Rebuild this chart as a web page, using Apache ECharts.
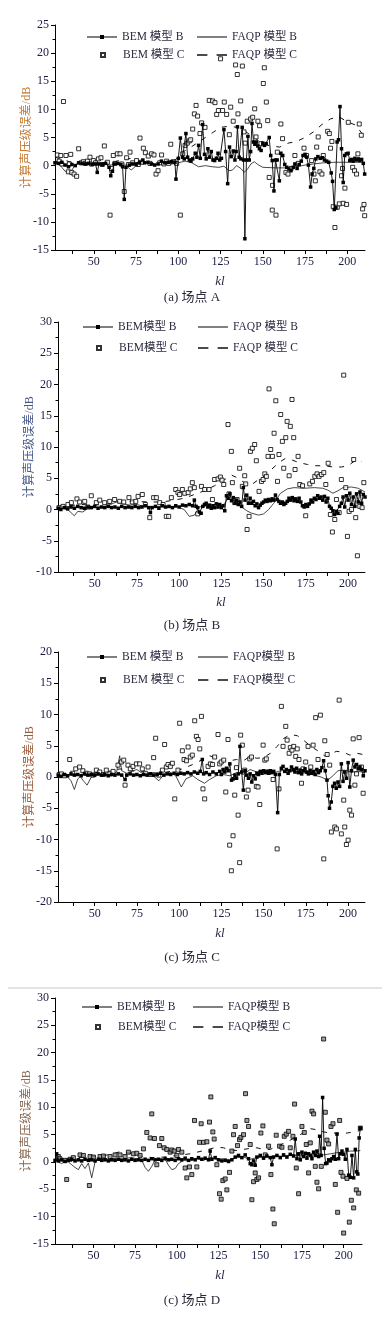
<!DOCTYPE html>
<html><head><meta charset="utf-8">
<script src="https://cdn.jsdelivr.net/npm/echarts@6/dist/echarts.min.js"></script>
<style>html,body{margin:0;padding:0;background:#fff}#c{width:387px;height:1320px}</style>
</head><body><div id="c"></div>
<script>
// ---------- shared axis values ----------
const xLabels = [50, 75, 100, 125, 150, 175, 200];
const xTicks = [37.5, 50, 62.5, 75, 87.5, 100, 112.5, 125, 137.5, 150, 162.5, 175, 187.5, 200];
const yName = '计算声压级误差/dB';
const xName = 'kl';

// ---------- panel A ----------
const aNames = ['BEM 模型 B', 'FAQP 模型 B', 'BEM 模型 C', 'FAQP 模型 C'];
const aBemB = [[27,0.5],[29,0.4],[31,0.6],[33,0.1],[35,-0.2],[37,0.2],[39,0.0],[41,0.5],[43,0.4],[45,0.3],[47,0.4],[49,0.2],[51,0.3],[52,-1.2],[53,0.3],[55,0.2],[57,0.4],[59,-0.3],[60,-1.8],[61,-1.0],[62,0.3],[64,0.4],[66,0.2],[67,-0.2],[68,-6.0],[69,-0.3],[71,0.1],[73,0.3],[75,0.2],[77,0.5],[79,1.0],[80,0.5],[82,0.6],[84,0.3],[86,0.1],[88,0.3],[90,0.8],[92,0.5],[94,0.6],[96,0.7],[98,0.6],[98.6,-2.4],[100,1.3],[101.2,4.9],[102.5,1.5],[103.5,1.2],[104.5,5.7],[105.5,1.5],[106.5,1.0],[107.5,0.8],[108.5,1.2],[110,2.2],[111,1.5],[112,3.6],[113,1.3],[114.4,7.3],[115.5,2.0],[116.5,1.2],[117.5,3.0],[118.5,1.5],[119.5,2.5],[120.5,1.0],[121.5,0.9],[122.5,1.3],[123.5,2.2],[124.5,1.0],[125.5,1.3],[127,6.4],[128,2.5],[129.2,-3.2],[130.3,3.3],[131.3,1.6],[132.5,2.6],[133.5,1.0],[134.2,2.5],[135,6.9],[136,1.5],[137,1.2],[137.8,6.8],[138.6,1.0],[139.4,-13.0],[140.3,1.0],[141.2,5.2],[142,1.0],[142.8,2.5],[143.6,7.5],[144.5,4.2],[145.3,3.8],[146.2,4.2],[147,3.5],[148,3.0],[149,2.7],[150,4.0],[151,3.6],[152,3.9],[153.8,5.0],[154.7,1.8],[155.6,0.9],[156.6,-4.5],[157.5,1.0],[158.5,1.0],[159.8,-2.7],[160.7,2.2],[161.8,1.8],[163,0.2],[164.2,-0.3],[165.5,-0.6],[166.7,-0.9],[168,-0.3],[169,0.3],[170.3,-0.5],[171.5,0.2],[172.8,0.8],[173.8,1.8],[175,2.0],[176,1.5],[177,0.1],[178.3,-3.8],[179.2,-1.5],[180.2,-0.5],[181.4,1.2],[182.6,1.6],[184,1.3],[185.3,1.4],[186.5,1.0],[187.8,0.8],[189,0.6],[190.5,-1.3],[191.3,-2.8],[192.3,-7.8],[193.3,-7.5],[194,4.2],[194.8,4.6],[195.7,10.5],[196.6,3.0],[197.6,-3.0],[198.5,1.8],[199.5,2.1],[200.5,2.2],[201.5,0.9],[202.5,1.1],[203.5,0.8],[204.5,1.3],[205.5,1.0],[206.5,1.2],[207.5,0.9],[208.5,1.1],[209.5,0.4],[210.3,-1.5]];
const aFaqpB = [[27,1.0],[29,0.5],[31,-0.3],[33,-1.0],[35,-1.2],[37,-0.8],[39,0.2],[42,0.6],[45,0.4],[48,0.3],[52,0.2],[56,0.3],[60,0.1],[64,0.4],[68,0.3],[70,-0.2],[72,-0.8],[74,-0.3],[77,0.5],[80,0.6],[84,0.3],[88,0.2],[92,0.3],[96,0.3],[100,0.5],[104,0.8],[108,0.5],[112,-0.2],[116,0.0],[120,-0.2],[124,-0.3],[127,-0.1],[130,-0.9],[132,-0.8],[134.5,0.0],[137,-0.5],[139,-1.2],[141,-0.6],[143,0.3],[145,0.7],[147,0.2],[150,-0.3],[158,-0.4],[165,-0.4],[170,-0.2],[175,0.1],[180,0.3],[186,0.5],[192,0.6],[198,0.6],[204,0.6],[210,0.6]];
const aFaqpC = [[27,1.5],[32,1.0],[38,0.5],[45,0.3],[52,0.5],[60,0.5],[66,1.0],[72,1.3],[78,0.8],[85,0.4],[92,0.5],[98,1.0],[103,2.5],[107,3.2],[111,4.0],[116,5.0],[121,6.0],[125,6.8],[130,7.0],[135,6.8],[140,6.0],[145,5.0],[150,3.8],[155,3.5],[160,3.3],[165,4.0],[170,4.3],[175,5.0],[180,6.0],[185,7.3],[190,8.3],[195,8.7],[200,7.8],[205,7.2],[210,5.2]];
const aBemC = [[28.4,1.9],[29.5,0.8],[30.4,1.8],[31,0.3],[32,11.4],[33.5,1.8],[34.9,-1.1],[35.5,0.3],[36.3,2.0],[36.9,-1.2],[38.3,-1.5],[39.8,-1.9],[41,3.0],[42.5,0.5],[43.8,0.7],[45,0.4],[46.2,0.8],[47.7,1.5],[48.5,0.3],[49.7,0.9],[51,0.5],[52.7,1.2],[54.2,1.4],[55,0.2],[56.2,3.5],[58,0.6],[59.6,-8.8],[60.5,-0.5],[61.5,1.8],[62.5,0.4],[63.9,2.1],[65.5,2.1],[66.5,0.3],[68,-4.6],[69.4,1.4],[70.5,0.2],[71.4,2.4],[73,0.5],[75.3,0.9],[76.3,0.2],[77.3,4.9],[78.3,0.6],[79.3,3.1],[80.5,2.3],[82.2,1.7],[83.2,0.4],[84.2,2.1],[85.6,1.9],[86.8,-1.5],[88,-0.9],[89,0.5],[90.1,1.9],[91.5,0.3],[93.1,0.8],[94.3,0.4],[95.5,3.8],[97,0.7],[99,0.4],[101.2,-8.8],[102.6,2.1],[104,3.6],[105.3,4.0],[106.5,4.4],[107.3,4.6],[108.5,6.5],[109.5,9.2],[110.5,10.7],[111.4,8.8],[112.8,5.7],[113.8,7.6],[115.8,6.8],[118.3,11.6],[120.3,11.5],[121.7,11.2],[122.7,9.1],[123.7,9.8],[125,19.0],[126.2,9.8],[127.2,11.3],[128.6,9.1],[130.2,5.5],[131,10.4],[132.5,7.9],[133.9,17.9],[134.9,16.2],[135.3,9.2],[136.9,11.5],[137.9,17.7],[138.9,6.0],[139.6,4.0],[140.8,7.9],[142.8,8.3],[144,8.6],[145.2,10.1],[146,5.1],[147.1,7.9],[148.1,7.1],[148.9,3.9],[150.3,14.6],[150.9,17.4],[152.1,11.3],[152.9,8.0],[153.8,-2.1],[155.6,-7.9],[155.8,-3.5],[157.8,-8.8],[158.6,2.4],[160.7,7.4],[161.7,4.8],[163.7,-1.2],[164.9,-1.5],[166.7,-0.5],[169,1.8],[171,0.4],[174.4,3.1],[175.9,1.8],[178.9,0.9],[180.3,-1.5],[181.1,-2.7],[181.9,3.3],[182.8,5.1],[183.8,-1.1],[185,-1.5],[185.8,1.8],[188.4,6.1],[189.4,5.7],[190.1,3.1],[190.9,4.3],[191.7,-7.3],[192.7,-11.0],[194.1,-7.4],[195.3,-6.8],[196.6,-1.8],[197.2,-0.5],[197.6,-6.7],[198.6,-4.0],[199.6,-6.9],[200.6,7.7],[203.2,-0.3],[204.3,-0.9],[205.5,-1.5],[206.3,2.1],[207.1,7.4],[208.3,5.4],[209.1,-7.7],[209.9,-6.9],[210.3,-8.9]];

// ---------- panel B ----------
const bNames = ['BEM模型 B', 'FAQP 模型 B', 'BEM模型 C', 'FAQP 模型 C'];
const bBemB = [[28.5,0.2],[30,0.0],[32,0.3],[34,0.1],[36,0.4],[38,0.2],[40,0.5],[42,0.3],[44,0.2],[46,0.4],[48,0.3],[50,0.5],[52,0.2],[54,0.4],[56,0.3],[58,0.5],[60,0.3],[62,0.4],[64,0.2],[66,0.5],[68,0.3],[70,0.4],[72,0.3],[74,0.5],[76,0.3],[78,0.4],[80,0.6],[82,0.3],[83,-0.5],[84,0.3],[86,0.5],[88,0.2],[90,0.6],[92,0.4],[94,0.5],[96,0.3],[98,0.6],[100,0.4],[102,0.7],[104,0.6],[106,0.8],[108,0.6],[109,1.5],[110,0.5],[111,0.3],[112,-0.4],[113,-0.6],[114,0.5],[115,0.8],[116,1.0],[117,0.4],[118,0.7],[119,0.2],[120,0.6],[121,0.3],[122,0.9],[123,0.4],[124,0.8],[125,0.3],[126,0.6],[127,-0.2],[128,2.2],[129,1.8],[130,2.5],[131,1.4],[132,1.9],[133,1.0],[134,1.5],[135,0.8],[136,1.2],[137,0.5],[138,3.5],[139,1.5],[140,2.3],[141,1.0],[142,1.8],[143,1.0],[144,1.3],[145,0.6],[146,0.9],[147,0.3],[148,0.7],[149,1.0],[150,1.2],[151,1.5],[152,1.3],[153,1.6],[154,1.4],[155,1.7],[156,1.5],[157,2.3],[158,1.6],[159,1.3],[160,1.0],[161,1.2],[162,0.8],[163,1.0],[164,1.3],[165,1.8],[166,1.5],[167,1.9],[168,1.4],[169,1.7],[170,1.3],[171,1.8],[172,1.2],[173,0.6],[174,0.4],[175,0.8],[176,0.5],[177,0.9],[178,1.5],[179,1.2],[180,1.8],[181,1.6],[182,2.2],[183,1.8],[184,2.0],[185,1.5],[186,2.1],[187,1.2],[188,1.8],[189,0.5],[190,0.2],[191,-0.2],[192,-0.8],[193,-0.3],[194,-0.6],[195,0.5],[196,1.0],[197,2.0],[198,0.4],[199,2.2],[200,1.5],[201,2.6],[202,0.8],[203,2.0],[204,0.5],[205,2.5],[206,1.2],[207,2.8],[208,1.0],[209,2.4],[210,2.0]];
const bFaqpB = [[28.3,0.4],[31,0.2],[34,0.0],[36,-0.5],[38,-1.0],[40,-0.3],[43,-0.4],[46,0.2],[50,0.3],[54,0.4],[58,0.6],[61,1.0],[64,1.3],[67,0.9],[71,0.7],[75,0.8],[79,0.5],[84,0.4],[89,0.5],[94,0.3],[99,0.4],[103,0.0],[106,-1.1],[109,-0.9],[112,0.4],[116,0.6],[120,0.2],[124,0.3],[127,1.0],[129,1.8],[132,1.2],[136,0.6],[140,-0.2],[143,-0.6],[147,-0.9],[150,-0.7],[153,0.0],[156,1.0],[160,2.6],[164,3.3],[168,3.5],[174,3.4],[180,3.5],[185,3.4],[188,3.1],[191,2.6],[194,3.0],[197,3.5],[202,3.6],[206,3.4],[210,2.8]];
const bFaqpC = [[28.3,0.5],[35,0.6],[42,0.8],[50,0.7],[58,0.9],[66,1.2],[74,1.3],[82,1.2],[90,1.2],[97,1.5],[103,1.8],[109,2.4],[115,3.0],[121,3.8],[127,4.8],[131,5.5],[135,5.0],[139,4.2],[143,4.0],[147,4.8],[151,5.5],[155,6.5],[159,7.5],[163,8.2],[167,7.9],[171,7.5],[176,7.2],[181,7.0],[186,7.0],[191,6.8],[196,6.8],[200,7.0],[204,7.8],[208,7.7]];
const bBemC = [[28.9,0.3],[31.3,0.5],[34.2,0.8],[36.2,1.1],[39.5,1.7],[41.1,1.2],[44.1,1.3],[46,0.4],[48,2.2],[51,1.1],[53,1.5],[55.9,1.1],[58.9,1.3],[61.8,1.6],[64.8,1.3],[67.2,1.2],[70.3,1.9],[72.3,1.2],[74.3,1.3],[75.7,2.1],[78.2,2.4],[80,0.8],[82.6,-1.3],[84.9,1.9],[86.5,1.9],[88.5,1.1],[90.5,0.8],[92.4,-1.1],[93.8,-1.1],[95.4,1.9],[98,3.2],[99.3,2.7],[100.3,2.4],[101.9,3.2],[103.3,2.6],[105.3,2.7],[106.6,3.3],[107.8,4.3],[109,3.5],[111,-0.7],[113.2,3.7],[115.1,3.2],[117.7,3.2],[119.7,1.6],[121,4.8],[123,4.9],[124.4,5.2],[125.4,4.7],[126.4,4.0],[128.9,13.6],[129.5,2.5],[130.9,9.3],[131.5,4.3],[132.9,1.1],[134.3,1.6],[135.8,6.6],[137.4,3.7],[138.8,5.4],[139.4,4.1],[140.2,-3.2],[141.4,-1.1],[142.2,9.3],[143.3,9.8],[144.7,10.4],[145.7,7.8],[147.3,2.9],[148.7,4.5],[149.7,4.8],[150.7,5.7],[151.6,5.3],[152.6,8.5],[153.2,19.3],[154.2,9.6],[155.2,8.5],[156.2,12.2],[157.2,17.4],[158.2,4.5],[159.1,8.8],[160.1,15.2],[161.1,10.9],[161.9,6.6],[163.1,11.5],[163.9,14.1],[165.1,5.4],[165.8,13.3],[166.8,17.6],[167.8,11.5],[168.6,6.4],[170.4,8.5],[171.4,4.0],[173,3.8],[174.9,-1.0],[177.3,4.1],[178.9,4.5],[180.3,5.3],[181.6,5.7],[182.8,5.3],[184.2,5.6],[185.6,5.9],[186.8,4.0],[188.2,7.4],[189.5,-0.8],[190.7,-3.6],[192.1,-1.6],[193.1,1.6],[194.7,-0.5],[196,4.8],[197.4,21.5],[198.6,3.5],[199.6,-4.3],[200.6,-0.3],[202,0.0],[203.3,8.0],[204.5,-1.3],[205.5,-7.4],[206.9,0.5],[208.3,0.3],[209.3,4.3]];

// ---------- panel C ----------
const cNames = ['BEM 模型 B', 'FAQP模型 B', 'BEM 模型 C', 'FAQP模型 C'];
const cBemB = [[28.5,0.3],[30,0.1],[32,0.4],[34,0.2],[36,0.5],[38,0.3],[40,0.4],[42,0.2],[44,0.5],[46,0.3],[48,0.4],[50,0.3],[52,0.5],[54,0.3],[56,0.4],[58,0.2],[60,0.4],[62,0.3],[64,0.5],[66,0.3],[68,-0.4],[69,0.3],[71,0.5],[73,0.3],[75,0.4],[77,0.2],[79,0.4],[81,0.3],[83,0.5],[85,0.3],[87,0.4],[89,0.6],[91,0.3],[93,0.5],[95,0.4],[97,0.6],[99,0.4],[101,0.6],[103,0.5],[105,0.7],[107,0.5],[109,0.8],[111,0.6],[112.5,0.9],[113.7,2.8],[114.5,0.5],[116,0.7],[118,0.4],[120,0.8],[122,0.5],[124,0.9],[125,0.4],[126,1.2],[127,0.8],[128,1.4],[129,1.0],[130,2.1],[131,-0.5],[132,-0.3],[133,0.3],[134,-0.2],[135,0.5],[136,4.9],[137,0.8],[138,-2.1],[139,1.0],[140,0.3],[141,-0.2],[142,0.5],[143,-0.8],[144,0.2],[145,-0.3],[146,0.6],[147,0.4],[148,0.9],[149,0.6],[150,1.0],[151,0.7],[152,0.9],[153,0.6],[154,1.0],[155,0.7],[156,0.9],[157,0.4],[158.3,-5.7],[159.3,0.4],[160.5,1.4],[161.5,1.7],[162.5,0.9],[163.5,1.2],[164.5,0.6],[165.5,1.0],[166.5,1.6],[167.5,1.2],[168.5,0.8],[169.5,1.4],[170.5,0.7],[171.5,1.1],[172.5,0.5],[173.5,1.0],[174.5,1.3],[175.5,0.8],[176.5,0.5],[177.5,1.0],[178.5,0.6],[179.5,0.9],[180.5,0.4],[181.5,1.2],[182.5,0.7],[183.5,1.0],[184.5,1.5],[185.5,2.6],[186.5,1.0],[187.5,-0.5],[188.2,-3.0],[189,-5.0],[190,-4.0],[191,-1.5],[192,-1.0],[193,-1.8],[194,-0.8],[195,-1.5],[196,2.1],[197,-0.7],[198,0.8],[199,-0.2],[200,2.3],[201,-1.6],[202,1.0],[203,2.7],[204,1.6],[205,2.0],[206,1.3],[207,1.6],[208,1.2],[209,0.2],[210,1.0]];
const cFaqpB = [[28.3,0.3],[31,0.2],[34,0.0],[36,-0.6],[38,-2.0],[40,-0.3],[41.5,0.1],[43,-0.5],[45.5,-1.3],[48,0.0],[52,0.3],[56,0.4],[60,0.3],[63,0.8],[64.8,3.4],[66,1.0],[69,0.6],[72,0.9],[75,1.2],[78,0.6],[82,0.3],[85,0.1],[88,-0.6],[91,0.4],[95,0.7],[98,0.2],[101.3,-1.6],[104,-0.3],[108,0.2],[111,-0.4],[115,-1.0],[118,-0.4],[122,0.2],[126,0.4],[130,0.2],[134,0.7],[138,0.4],[142,1.2],[146,0.8],[150,0.9],[155,0.6],[160,1.0],[165,1.0],[170,0.8],[175,0.6],[180,0.3],[184,0.0],[188,-0.5],[191,0.2],[194,1.0],[198,1.1],[202,0.8],[206,0.9],[210,0.7]];
const cFaqpC = [[28.3,0.6],[35,0.4],[42,0.8],[50,0.7],[58,0.9],[65,1.3],[72,1.0],[80,0.8],[88,0.6],[95,0.9],[102,1.3],[108,2.0],[114,2.8],[118,3.4],[122,3.0],[126,2.6],[130,2.6],[134,2.8],[138,2.6],[142,3.3],[146,3.0],[150,3.1],[154,3.8],[158,4.9],[162,6.2],[166,6.8],[170,6.6],[174,5.8],[178,4.9],[182,4.2],[186,3.4],[190,3.7],[193,4.1],[197,4.0],[201,3.5],[205,3.8],[209,3.6]];
const cBemC = [[29,0.4],[30.3,0.5],[32.2,0.2],[35.2,2.8],[37,0.6],[38.8,1.3],[41.1,1.6],[43,1.0],[45,0.6],[47,0.5],[49,0.3],[51,1.1],[53,0.8],[55,0.4],[56.9,1.1],[59,0.5],[60.9,0.9],[63.8,1.9],[65.8,2.4],[67.2,2.7],[68,-1.3],[69.7,1.9],[71.1,1.3],[72.7,1.7],[74.7,2.1],[76.6,2.1],[78.2,1.3],[80,0.6],[81.6,1.6],[83,0.4],[84.9,3.1],[86.1,6.2],[88,0.3],[90.1,1.1],[91.4,5.2],[92.4,1.6],[93.4,2.0],[94.8,1.7],[96,2.2],[97.4,-3.5],[99.3,1.1],[100.3,8.6],[101.9,4.2],[102.9,2.8],[104.3,2.6],[105.3,4.8],[106.6,3.2],[107.8,3.5],[109.2,9.0],[110.2,6.5],[111.2,6.0],[112.2,4.5],[113.2,9.7],[114.1,-1.9],[115.1,-3.5],[117.1,1.7],[118.5,2.1],[119.7,2.0],[121,3.2],[123,6.8],[124,2.1],[124.9,2.4],[126.4,2.7],[127.6,-2.4],[128.9,6.0],[129.9,-10.9],[130.9,-15.0],[131.9,-9.4],[132.9,-2.9],[133.9,1.5],[134.9,-6.1],[135.8,-13.7],[136.4,6.7],[137.4,5.1],[138.8,1.1],[139.8,-3.2],[140.8,-2.1],[141.8,2.9],[142.8,3.2],[145.7,-1.5],[146.7,-1.6],[147.7,-4.4],[149.7,5.1],[150.7,2.7],[151.6,2.9],[153,0.8],[155.6,-0.4],[158,-11.5],[159.1,-1.9],[160.5,11.3],[161.5,4.9],[163.1,8.1],[163.9,5.9],[165.1,3.8],[165.8,4.7],[166.8,4.3],[167.8,4.9],[169,3.3],[169.9,4.5],[170.9,2.8],[172.4,-1.0],[173.3,1.3],[174.9,2.4],[176.3,4.9],[177.9,1.6],[179.3,5.1],[180.8,9.5],[182.2,2.8],[183.6,9.9],[185.6,-13.1],[186.2,5.8],[187.6,3.6],[189.1,1.9],[190.1,-8.8],[192.1,-8.0],[193.1,-8.3],[194.7,12.3],[196,-9.1],[197.4,-3.7],[198,-8.0],[199,-10.8],[200,-10.1],[201,-5.3],[202,-6.1],[203,6.1],[204,-1.3],[205,0.5],[206.5,6.3],[207.9,1.6],[208.9,-2.6]];

// ---------- panel D ----------
const dNames = ['BEM模型 B', 'FAQP模型 B', 'BEM模型 C', 'FAQP模型 C'];
const dBemB = [[27,0.3],[28,1.5],[29,0.2],[31,0.4],[33,0.1],[35,0.3],[37,0.5],[39,0.2],[41,0.4],[43,0.2],[45,0.5],[47,0.3],[49,0.4],[51,0.2],[53,0.5],[55,0.3],[57,0.4],[59,0.2],[61,0.4],[63,0.3],[65,0.5],[67,0.3],[69,0.4],[71,0.2],[73,0.5],[75,0.3],[77,0.4],[79,0.3],[81,0.5],[83,0.3],[85,0.6],[87,0.4],[89,0.5],[91,0.3],[93,0.6],[95,0.4],[97,0.5],[99,0.3],[101,0.6],[103,0.4],[105,0.7],[107,0.3],[109,0.6],[111,0.4],[113,0.8],[115,0.5],[117,0.7],[119,0.4],[120,2.0],[121,0.5],[123,0.8],[125,0.4],[127,0.2],[129,0.3],[131,0.1],[133,0.4],[135,0.9],[137,1.2],[139,0.8],[141,1.3],[143,0.6],[144,-0.3],[145,-0.5],[146,0.2],[147,-0.6],[148,0.9],[150,1.2],[152,0.7],[154,1.1],[156,0.8],[157,-0.5],[158,0.9],[160,1.2],[162,0.8],[164,1.3],[166,0.9],[168,1.4],[170,1.1],[171,4.2],[172,0.6],[173,1.5],[174,0.4],[175,1.8],[176,1.0],[177,1.6],[178,0.7],[179,1.5],[180,1.2],[181,0.6],[182,1.8],[183,1.2],[184,2.0],[185,1.0],[185.6,4.7],[186.5,1.2],[187.4,11.8],[188.3,2.5],[189.2,-0.3],[190,-0.2],[191,0.4],[192,0.2],[193,0.6],[194,1.0],[195,0.5],[196,5.1],[197,0.6],[198,1.5],[199,2.0],[200,1.4],[201,0.5],[202,2.3],[203,-2.4],[204,-2.8],[205,1.2],[206,-2.9],[207,2.3],[207.8,-1.8],[208.5,-2.2],[209.3,4.4],[210,6.2]];
const dFaqpB = [[27,0.5],[29,0.0],[31,-0.3],[33,0.2],[35,0.0],[37,-0.5],[39,-1.0],[41,-1.4],[43,-0.3],[45,-1.2],[47,-0.2],[49,-2.9],[51,0.0],[53,0.4],[56,0.6],[60,0.5],[64,0.7],[68,0.5],[72,0.8],[76,0.6],[79,0.3],[81,-1.0],[83,-1.7],[85,-0.8],[87,0.4],[90,0.6],[93,0.5],[95,-0.6],[97,-1.4],[99,-1.2],[101,-0.3],[104,0.3],[108,0.2],[112,0.6],[116,0.3],[120,0.8],[124,0.5],[128,0.6],[132,0.4],[136,0.8],[140,0.9],[144,0.5],[148,0.8],[152,0.9],[156,1.0],[160,1.1],[164,1.0],[168,1.3],[172,1.2],[176,1.3],[180,1.4],[184,1.6],[188,1.3],[192,1.5],[196,1.7],[200,1.8],[204,2.0],[208,2.0],[210,2.1]];
const dFaqpC = [[27,0.5],[34,0.6],[41,0.8],[48,1.0],[55,1.1],[62,1.5],[67,2.0],[72,1.6],[78,1.1],[85,0.8],[92,0.9],[100,1.2],[108,1.5],[115,2.0],[120,2.4],[124,2.7],[128,2.6],[132,2.2],[136,2.1],[140,2.3],[144,2.5],[148,2.6],[152,2.3],[156,2.3],[160,2.9],[164,3.4],[168,4.0],[172,4.6],[176,5.4],[180,6.1],[184,5.9],[188,5.5],[192,5.3],[196,5.3],[200,5.2],[204,5.4],[208,5.6],[210,5.8]];
const dBemC = [[29,1.0],[30,0.6],[33,0.3],[34,-3.2],[36,0.5],[38,0.8],[42,1.3],[44,1.2],[47.6,-4.3],[48,1.0],[50,0.9],[54,1.0],[56,1.1],[60,1.0],[63,1.3],[66,1.3],[69,1.0],[71,1.8],[74,1.5],[76,1.6],[78,1.2],[80,2.4],[82,5.4],[84,4.4],[85,8.8],[86.6,4.3],[88,-0.5],[89.6,3.0],[91,4.3],[92.4,2.6],[94,2.3],[96,1.8],[97,2.2],[98.4,2.0],[100,1.2],[101,2.3],[103,1.8],[105,-1.1],[106,-2.9],[107.6,-0.9],[109,-2.3],[110.6,7.6],[112,-0.9],[113.6,3.6],[114.6,7.0],[116,3.6],[118,3.7],[119.6,7.3],[120.4,11.9],[121.6,5.5],[122.4,4.2],[124,-0.5],[125.6,-5.8],[126.6,-6.8],[127.6,-3.4],[129,-3.1],[130,-5.1],[131.6,-1.9],[133,2.0],[134,5.0],[135,6.5],[136.4,3.0],[137.6,4.1],[138.4,4.5],[140,5.0],[141.2,12.5],[142,7.6],[143,6.5],[144,3.2],[145,-6.9],[146,-3.6],[147,-2.0],[148,-3.2],[149,-2.9],[150.4,5.3],[151.6,6.6],[153,1.3],[155,2.9],[156.4,-2.3],[157.6,-8.6],[158.4,-11.3],[159.6,4.9],[161.6,2.9],[163,2.7],[164.4,4.7],[165.6,5.1],[167,5.6],[168,2.6],[169.6,4.7],[170.6,10.6],[171.6,-1.1],[173,-5.8],[175,6.5],[176.4,5.4],[177.6,3.2],[179,-2.0],[180,3.5],[181,9.3],[182,8.8],[183,-0.8],[184,-3.7],[185,-4.9],[186.6,-0.8],[188,22.5],[189,9.1],[190,4.0],[191,3.3],[192.4,6.5],[193.6,7.0],[195,-4.1],[196.4,-9.2],[197.6,7.6],[198.4,-1.9],[199.6,-2.6],[200,-13.0],[202,-3.0],[203.4,-11.0],[204.6,-7.0],[206,-8.4],[207.6,-5.1],[209,-5.7],[210,6.2]];

// ---------- layout (not data) ----------
const serif = '"Liberation Serif","Noto Sans CJK SC",serif';
const iconBemB = 'path://M0,1.4h30v1.2h-30zM13,0h4v4h-4z';
const iconLine = 'path://M0,0h30v1.1h-30z';
const iconDash = 'path://M0,0h9v1.2h-9zM17,0h9v1.2h-9z';
const iconSq = 'path://M0,0h4v4h-4z';
const panels = [
  {names:aNames, s:[aBemB,aFaqpB,aBemC,aFaqpC], grid:{left:55,top:25,width:310,height:225}, xmin:27, xmax:210.5, ymin:-15, ymax:25,
   leg:{x1:87, x2:197, y1:37, y2:55}, kl:[220,282], cap:'(a) 场点 A', capY:298, yColor:'#c47a33', cFill:'#fff'},
  {names:bNames, s:[bBemB,bFaqpB,bBemC,bFaqpC], grid:{left:58,top:322,width:307,height:250}, xmin:28.3, xmax:210, ymin:-10, ymax:30,
   leg:{x1:83, x2:198, y1:327, y2:348}, kl:[221,603], cap:'(b) 场点 B', capY:626, yColor:'#485a8a', cFill:'#fff'},
  {names:cNames, s:[cBemB,cFaqpB,cBemC,cFaqpC], grid:{left:58,top:652,width:307,height:250}, xmin:28.3, xmax:210, ymin:-20, ymax:20,
   leg:{x1:87, x2:198, y1:657, y2:680}, kl:[220,934], cap:'(c) 场点 C', capY:958, yColor:'#9a5e3e', cFill:'#fff'},
  {names:dNames, s:[dBemB,dFaqpB,dBemC,dFaqpC], grid:{left:55,top:998,width:307,height:246}, xmin:27, xmax:211, ymin:-15, ymax:30,
   leg:{x1:82, x2:193, y1:1007, y2:1027}, kl:[220,1276], cap:'(c) 场点 D', capY:1301, yColor:'#8a6a55', cFill:'#8a8a8a'}
];

const tickColor = '#1a1c40';
const legColor = '#2a2a40';
const option = {animation:false, backgroundColor:'#fff', grid:[], xAxis:[], yAxis:[], series:[], legend:[], graphic:[]};

function legendItem(name, icon, x, y, w, padLeft) {
  return {left:x, top:y - 7, padding:0, itemWidth:w, itemHeight:4, selectedMode:false,
    textStyle:{color:legColor, fontSize:11.5, fontFamily:serif, lineHeight:14, padding:[0,0,0,padLeft]},
    data:[{name:name, icon:icon}]};
}

panels.forEach((p, i) => {
  option.grid.push(Object.assign({containLabel:false}, p.grid));
  option.xAxis.push({type:'value', gridIndex:i, min:p.xmin, max:p.xmax,
    axisLine:{show:true, onZero:false, lineStyle:{color:'#000', width:1}},
    axisTick:{show:true, customValues:xTicks, length:4, lineStyle:{color:'#000'}},
    axisLabel:{customValues:xLabels, color:tickColor, fontSize:12, fontFamily:serif, margin:6},
    splitLine:{show:false}});
  option.yAxis.push({type:'value', gridIndex:i, min:p.ymin, max:p.ymax, interval:5,
    axisLine:{show:true, onZero:false, lineStyle:{color:'#000', width:1}},
    axisTick:{show:true, length:4, lineStyle:{color:'#000'}},
    minorTick:{show:true, splitNumber:2, length:2.5, lineStyle:{color:'#000'}},
    axisLabel:{color:tickColor, fontSize:12, fontFamily:serif, margin:6},
    splitLine:{show:false},
    name:yName, nameLocation:'middle', nameGap:22, nameMoveOverlap:false,
    nameTextStyle:{color:p.yColor, fontSize:12, fontFamily:serif}});
  const [bemB, faqpB, bemC, faqpC] = p.s;
  option.series.push(
    {type:'line', name:p.names[1], xAxisIndex:i, yAxisIndex:i, data:faqpB, showSymbol:false, symbol:'none',
     lineStyle:{color:'#1a1a1a', width:0.8}, itemStyle:{color:'#1a1a1a'}, z:2},
    {type:'line', name:p.names[3], xAxisIndex:i, yAxisIndex:i, data:faqpC, showSymbol:false, symbol:'none',
     lineStyle:{color:'#111', width:1, type:[5,7]}, itemStyle:{color:'#111'}, z:2},
    {type:'scatter', name:p.names[2], xAxisIndex:i, yAxisIndex:i, data:bemC, symbol:'rect', symbolSize:4,
     itemStyle:{color:p.cFill, borderColor:'#000', borderWidth:1}, z:3},
    {type:'line', name:p.names[0], xAxisIndex:i, yAxisIndex:i, data:bemB, symbol:'rect', symbolSize:3.5,
     showSymbol:true, showAllSymbol:true, lineStyle:{color:'#000', width:0.9}, itemStyle:{color:'#000'}, z:4}
  );
  option.legend.push(
    legendItem(p.names[0], iconBemB, p.leg.x1, p.leg.y1, 30, 0),
    legendItem(p.names[1], iconLine, p.leg.x2, p.leg.y1, 30, 0),
    legendItem(p.names[2], iconSq, p.leg.x1 + 13, p.leg.y2, 4, 13),
    legendItem(p.names[3], iconDash, p.leg.x2, p.leg.y2, 30, 0)
  );
  option.graphic.push(
    {type:'text', x:p.kl[0], y:p.kl[1], style:{text:xName, fill:'#2a2a4a', font:'italic 13px '+serif, textAlign:'center', textVerticalAlign:'middle'}},
    {type:'text', x:192, y:p.capY, style:{text:p.cap, fill:'#2a2a3a', font:'13px '+serif, textAlign:'center', textVerticalAlign:'middle'}}
  );
});
option.graphic.push({type:'line', shape:{x1:8, y1:988, x2:382, y2:988}, style:{stroke:'#c8c8c8', lineWidth:1}});

const chart = echarts.init(document.getElementById('c'), null, {renderer:'canvas', width:387, height:1320});
chart.setOption(option);
</script>
</body></html>
